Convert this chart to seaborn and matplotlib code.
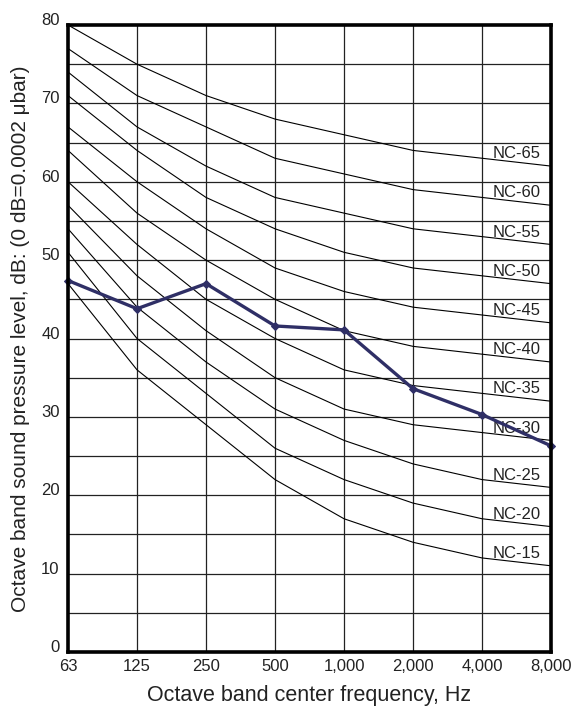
import matplotlib
matplotlib.use("Agg")
import matplotlib.pyplot as plt
import seaborn as sns
import numpy as np
import pandas as pd

freq_labels = ["63", "125", "250", "500", "1,000", "2,000", "4,000", "8,000"]
nc_names = ["NC-15", "NC-20", "NC-25", "NC-30", "NC-35", "NC-40",
            "NC-45", "NC-50", "NC-55", "NC-60", "NC-65"]
nc15 = [47, 36, 29, 22, 17, 14, 12, 11]
nc20 = [51, 40, 33, 26, 22, 19, 17, 16]
nc25 = [54, 44, 37, 31, 27, 24, 22, 21]
nc30 = [57, 48, 41, 35, 31, 29, 28, 27]
nc35 = [60, 52, 45, 40, 36, 34, 33, 32]
nc40 = [64, 56, 50, 45, 41, 39, 38, 37]
nc45 = [67, 60, 54, 49, 46, 44, 43, 42]
nc50 = [71, 64, 58, 54, 51, 49, 48, 47]
nc55 = [74, 67, 62, 58, 56, 54, 53, 52]
nc60 = [77, 71, 67, 63, 61, 59, 58, 57]
nc65 = [80, 75, 71, 68, 66, 64, 63, 62]
measured = [47.4, 43.8, 47.0, 41.6, 41.1, 33.6, 30.3, 26.3]

nc_curves = [nc15, nc20, nc25, nc30, nc35, nc40, nc45, nc50, nc55, nc60, nc65]

sns.set_style("white")
plt.rcParams['font.family'] = ['Liberation Sans', 'DejaVu Sans']

fig = plt.figure(figsize=(5.74, 7.07), dpi=100)
ax = fig.add_axes([0.1185, 0.0778, 0.8415, 0.8868])

xpos = np.arange(len(freq_labels))

rows = []
for name, vals in zip(nc_names, nc_curves):
    for i, v in enumerate(vals):
        rows.append({"x": i, "y": v, "curve": name})
df = pd.DataFrame(rows)

# grid
for yv in range(5, 80, 5):
    ax.axhline(yv, color="#222222", lw=0.9, zorder=1)
for xv in xpos[1:-1]:
    ax.axvline(xv, color="#222222", lw=0.9, zorder=1)

sns.lineplot(data=df, x="x", y="y", units="curve", estimator=None,
             color="black", lw=0.8, ax=ax, zorder=2, legend=False)

for name, vals in zip(nc_names, nc_curves):
    xm = 6.5
    ym = (vals[6] + vals[7]) / 2
    ax.text(xm, ym + 0.5, name, ha="center", va="baseline", fontsize=12,
            color="#222222", zorder=3)

mdf = pd.DataFrame({"x": xpos, "y": measured})
sns.lineplot(data=mdf, x="x", y="y", color="#2f2f66", lw=2.4, marker="D",
             markersize=4.5, markeredgecolor="#2f2f66", ax=ax, zorder=4,
             clip_on=False)

ax.set_xlim(0, 7)
ax.set_ylim(0, 80)
ax.set_xticks(xpos)
ax.set_xticklabels(freq_labels, fontsize=12, color="#222222")
ax.set_yticks(range(0, 81, 10))
ax.set_yticklabels([str(v) for v in range(0, 81, 10)], fontsize=12,
                   color="#222222", va="baseline")
ax.tick_params(axis="x", length=0, pad=5)
ax.tick_params(axis="y", length=0, pad=6)
ax.set_xlabel("Octave band center frequency, Hz", fontsize=15.5,
              color="#222222", labelpad=8)
ax.set_ylabel("Octave band sound pressure level, dB: (0 dB=0.0002 \u03bcbar)",
              fontsize=15, color="#222222", labelpad=8)
for s in ax.spines.values():
    s.set_visible(True)
    s.set_color("black")
    s.set_linewidth(2.6)
    s.set_zorder(5)

fig.savefig("out.png", dpi=100)
